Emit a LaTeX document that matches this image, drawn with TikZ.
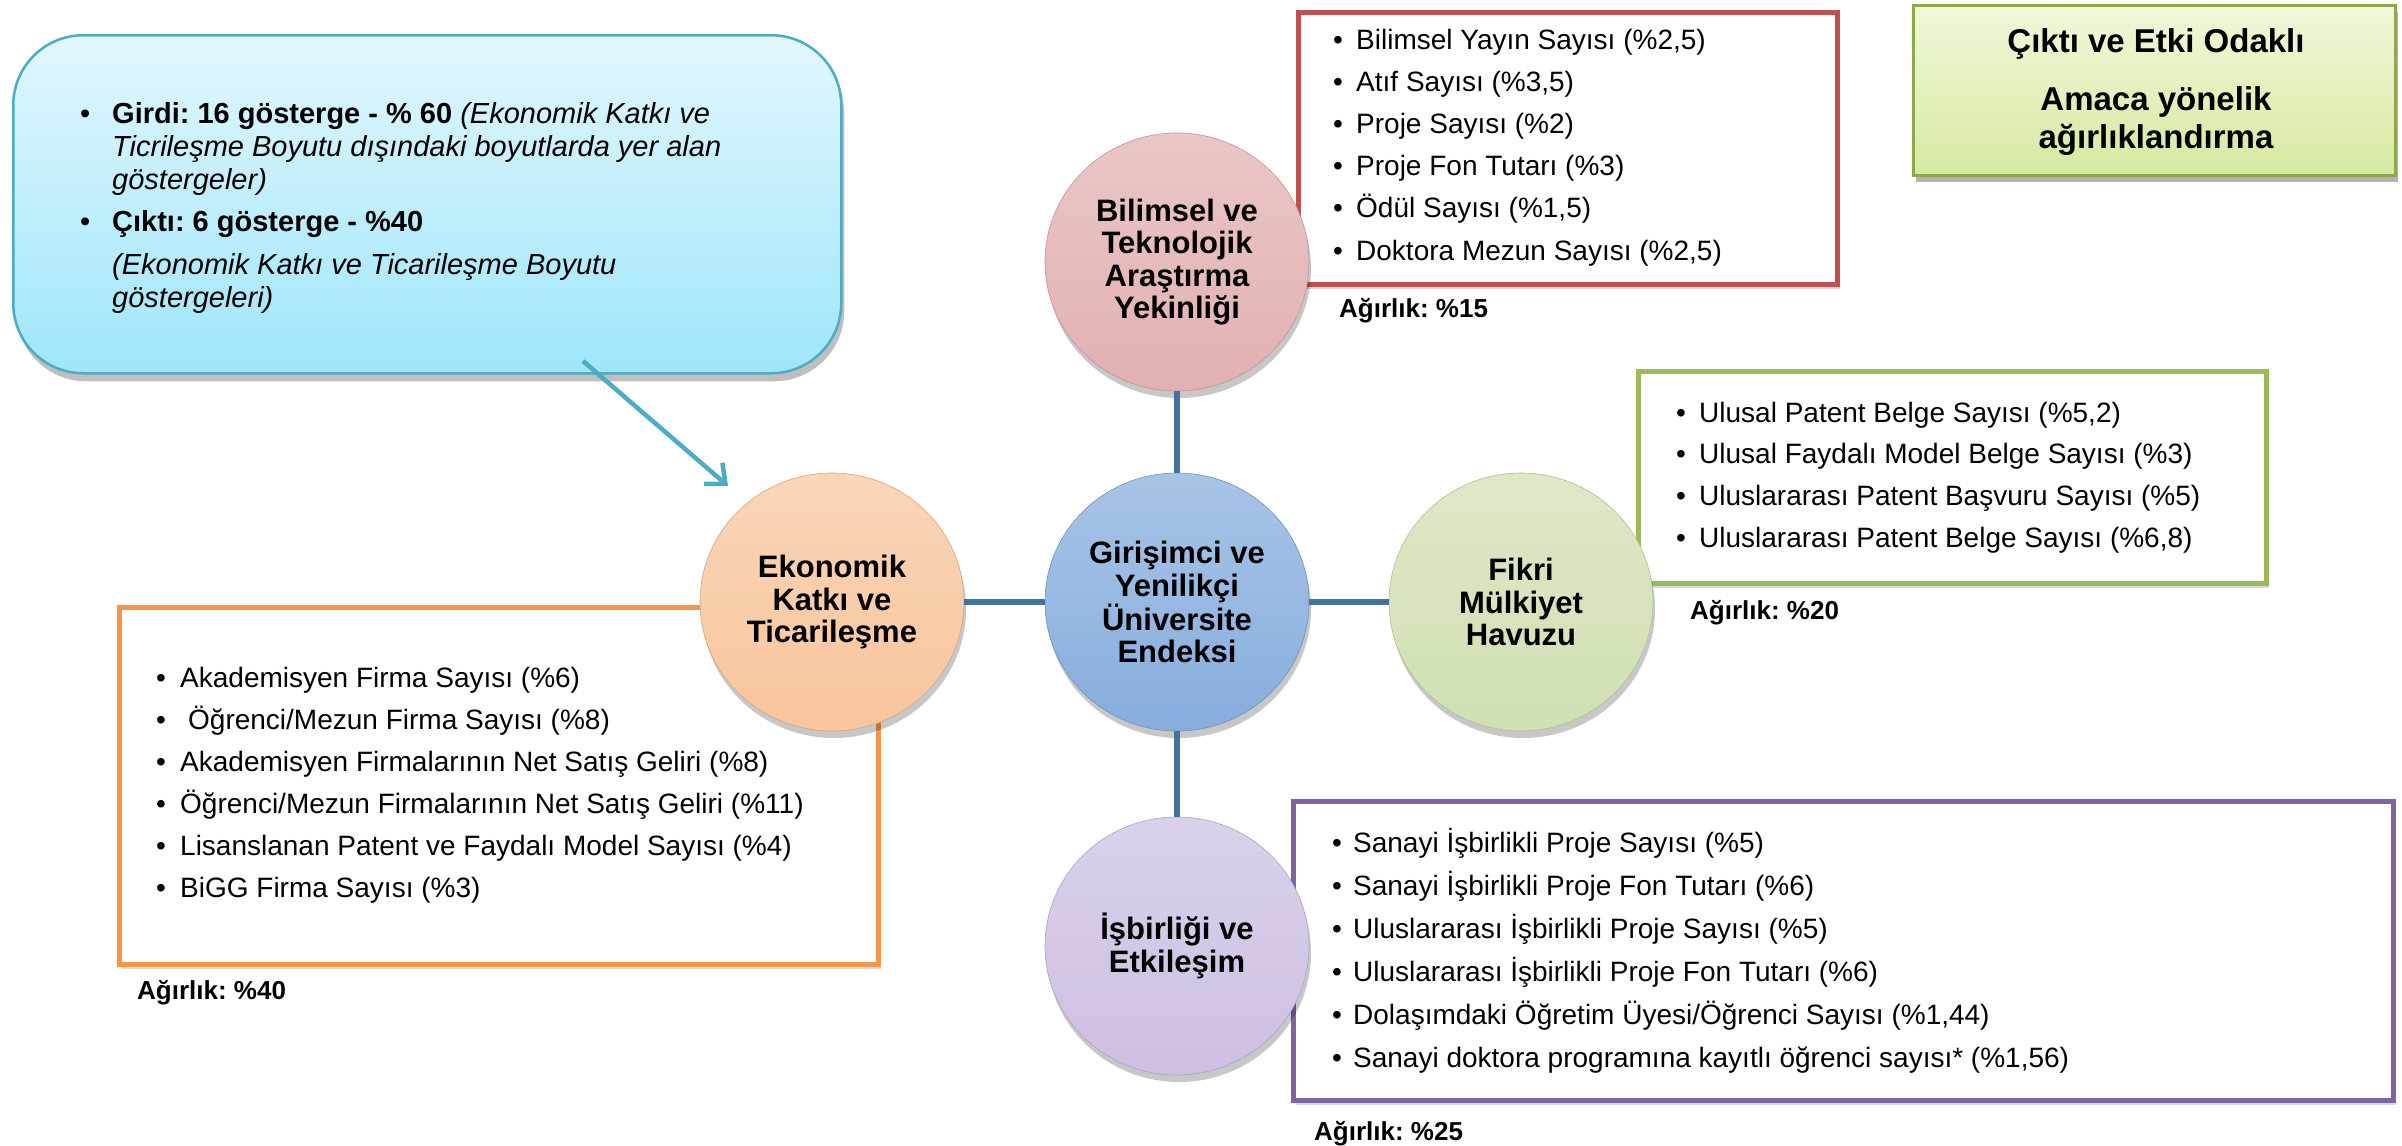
\documentclass[tikz,border=0pt]{standalone}
\usepackage{fontspec}
\setmainfont{Liberation Sans}
\usetikzlibrary{shapes.geometric,shadows,arrows.meta}
\definecolor{cConn}{HTML}{44729F}
\definecolor{cArrow}{HTML}{4BACC6}
\definecolor{cRed}{HTML}{C0504D}
\definecolor{cOrange}{HTML}{F79646}
\definecolor{cGreen}{HTML}{9BBB59}
\definecolor{cPurple}{HTML}{8064A2}
\definecolor{eBil}{HTML}{E2B0B1}
\definecolor{eMid}{HTML}{86ADDD}
\definecolor{eEko}{HTML}{F8C59C}
\definecolor{eFik}{HTML}{D0DFB2}
\definecolor{eIsb}{HTML}{CDBFE2}
\newcommand\bulx{\makebox[23pt][l]{•}}
\tikzset{
  item/.style={anchor=base west, inner sep=0pt, font=\fontsize{28}{34}\selectfont},
  bitem/.style={anchor=base west, inner sep=0pt, font=\fontsize{29}{34}\selectfont},
  wt/.style={anchor=base west, inner sep=0pt, font=\bfseries\fontsize{26}{30}\selectfont},
  circ/.style={ellipse, minimum width=264pt, minimum height=258pt, inner sep=0pt,
    align=center, font=\bfseries\fontsize{31}{32.5}\selectfont,
    top color=#1!72!white, bottom color=#1, draw=#1!85!black, line width=0.6pt,
    drop shadow={shadow xshift=2pt, shadow yshift=-7pt, opacity=0.22, fill=black}},
  listbox/.style={anchor=north west, line width=5pt, fill=white, inner sep=0pt,
    drop shadow={shadow xshift=2pt, shadow yshift=-4pt, opacity=0.15, fill=black}},
  conn/.style={draw=cConn, line width=6pt},
  head/.style={anchor=base, inner sep=0pt, font=\bfseries\fontsize{33}{38}\selectfont},
}
\begin{document}
\frenchspacing
\begin{tikzpicture}[x=1pt,y=-1pt]
\useasboundingbox (0,0) rectangle (2402,1146);
\fill[white] (0,0) rectangle (2402,1146);

% ---- top-left info box ----
\node[anchor=north west, rounded corners=70pt, minimum width=828pt, minimum height=338pt,
  top color={rgb,255:red,226;green,247;blue,253}, bottom color={rgb,255:red,158;green,230;blue,251},
  draw=cArrow, line width=2.5pt, inner sep=0pt,
  drop shadow={shadow xshift=3pt, shadow yshift=-8pt, opacity=0.25, fill=black}] (info) at (12,34) {};
\node[bitem] (i1) at (80,123) {\makebox[32pt][l]{•}\textbf{Girdi: 16 gösterge - \% 60} \textit{(Ekonomik Katkı ve}};
\node[bitem] (i2) at (112,156) {\textit{Ticrileşme Boyutu dışındaki boyutlarda yer alan}};
\node[bitem] (i3) at (112,189) {\textit{göstergeler)}};
\node[bitem] (i4) at (80,231) {\makebox[32pt][l]{•}\textbf{Çıktı: 6 gösterge - \%40}};
\node[bitem] (i5) at (112,274) {\textit{(Ekonomik Katkı ve Ticarileşme Boyutu}};
\node[bitem] (i6) at (112,307) {\textit{göstergeleri)}};

% ---- top-right header box ----
\node[anchor=north west, minimum width=482pt, minimum height=170pt, inner sep=0pt,
  top color={rgb,255:red,240;green,248;blue,218}, bottom color={rgb,255:red,214;green,233;blue,160},
  draw={rgb,255:red,138;green,171;blue,74}, line width=3pt,
  drop shadow={shadow xshift=2pt, shadow yshift=-6pt, opacity=0.3, fill=black}] (head) at (1912,4) {};
\node[head] (h1) at (2156,52) {Çıktı ve Etki Odaklı};
\node[head] (h2) at (2156,110) {Amaca yönelik};
\node[head] (h3) at (2156,148) {ağırlıklandırma};

% ---- list boxes ----
\node[listbox, draw=cRed, minimum width=539pt, minimum height=272pt] (bilbox) at (1296,10) {};
\node[listbox, draw=cGreen, minimum width=628pt, minimum height=212pt] (fikbox) at (1636,369) {};
\node[listbox, draw=cOrange, minimum width=759pt, minimum height=357pt] (ekobox) at (117,605) {};
\node[listbox, draw=cPurple, minimum width=1100pt, minimum height=299pt] (isbbox) at (1291,799) {};

% Bilimsel list
\foreach \t [count=\i] in {{Bilimsel Yayın Sayısı (\%2,5)},{Atıf Sayısı (\%3,5)},{Proje Sayısı (\%2)},
  {Proje Fon Tutarı (\%3)},{Ödül Sayısı (\%1,5)},{Doktora Mezun Sayısı (\%2,5)}}
  \node[item] (bl\i) at (1333,{49+42.2*(\i-1)}) {\bulx\t};
\node[wt] (blw) at (1339,317) {Ağırlık: \%15};

% Fikri list
\foreach \t [count=\i] in {{Ulusal Patent Belge Sayısı (\%5,2)},{Ulusal Faydalı Model Belge Sayısı (\%3)},
  {Uluslararası Patent Başvuru Sayısı (\%5)},{Uluslararası Patent Belge Sayısı (\%6,8)}}
  \node[item] (fl\i) at (1676,{422+41.7*(\i-1)}) {\bulx\t};
\node[wt] (flw) at (1690,619) {Ağırlık: \%20};

% Ekonomik list
\foreach \t [count=\i] in {{Akademisyen Firma Sayısı (\%6)},{\hspace{8pt}Öğrenci/Mezun Firma Sayısı (\%8)},
  {Akademisyen Firmalarının Net Satış Geliri (\%8)},{Öğrenci/Mezun Firmalarının Net Satış Geliri (\%11)},
  {Lisanslanan Patent ve Faydalı Model Sayısı (\%4)},{BiGG Firma Sayısı (\%3)}}
  \node[item] (el\i) at (156,{687+42*(\i-1)}) {\makebox[24pt][l]{•}\t};
\node[wt] (elw) at (137,999) {Ağırlık: \%40};

% Isbirligi list
\foreach \t [count=\i] in {{Sanayi İşbirlikli Proje Sayısı (\%5)},{Sanayi İşbirlikli Proje Fon Tutarı (\%6)},
  {Uluslararası İşbirlikli Proje Sayısı (\%5)},{Uluslararası İşbirlikli Proje Fon Tutarı (\%6)},
  {Dolaşımdaki Öğretim Üyesi/Öğrenci Sayısı (\%1,44)},{Sanayi doktora programına kayıtlı öğrenci sayısı* (\%1,56)}}
  \node[item] (pl\i) at (1332,{852+43*(\i-1)}) {\makebox[21pt][l]{•}\t};
\node[wt] (plw) at (1314,1140) {Ağırlık: \%25};

% ---- ellipses ----
\node[circ=eBil] (bil) at (1177,262) {Bilimsel ve\\Teknolojik\\Araştırma\\Yekinliği};
\node[circ=eMid] (mid) at (1177,602) {Girişimci ve\\Yenilikçi\\Üniversite\\Endeksi};
\node[circ=eEko] (eko) at (832,602) {Ekonomik\\Katkı ve\\Ticarileşme};
\node[circ=eFik] (fik) at (1521,602) {Fikri\\Mülkiyet\\Havuzu};
\node[circ=eIsb] (isb) at (1177,946) {İşbirliği ve\\Etkileşim};

% ---- connectors ----
\draw[conn] (bil) -- (mid);
\draw[conn] (mid) -- (isb);
\draw[conn] (eko) -- (mid);
\draw[conn] (mid) -- (fik);

% ---- arrow ----
\coordinate (arrS) at (583,361);
\coordinate (arrE) at (728,486);
\draw[draw=cArrow, line width=4.5pt, -{Straight Barb[length=16pt,width=28pt]}] (arrS) -- (arrE);
\end{tikzpicture}
\end{document}
